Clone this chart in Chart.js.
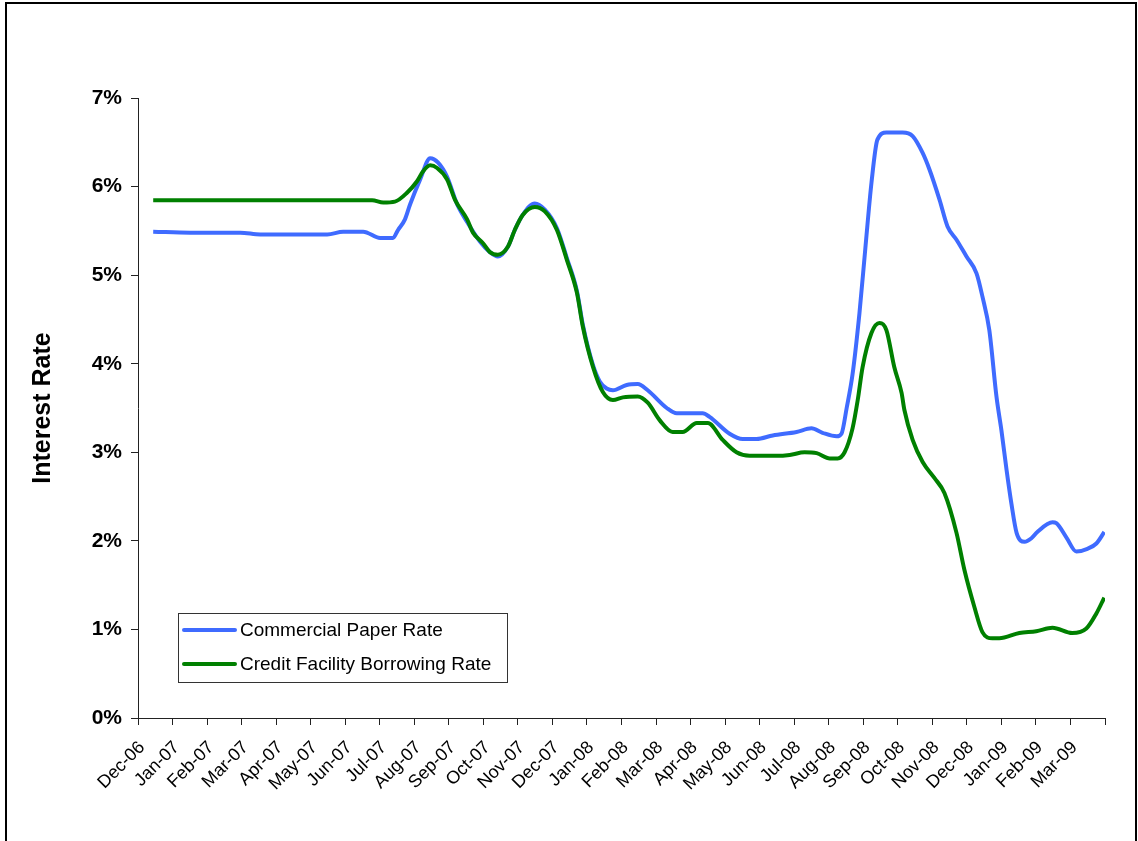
<!DOCTYPE html>
<html>
<head>
<meta charset="utf-8">
<script src="https://cdn.jsdelivr.net/npm/chart.js@4.4.1/dist/chart.umd.min.js"></script>
<style>
  html, body { margin: 0; padding: 0; background: #fff; }
</style>
</head>
<body>
<canvas id="myChart" width="1138" height="841"></canvas>
<script>
// month labels, one per tick (tick 28 is left blank)
const monthLabels = ['Dec-06', 'Jan-07', 'Feb-07', 'Mar-07', 'Apr-07', 'May-07', 'Jun-07', 'Jul-07',
      'Aug-07', 'Sep-07', 'Oct-07', 'Nov-07', 'Dec-07', 'Jan-08', 'Feb-08', 'Mar-08', 'Apr-08',
      'May-08', 'Jun-08', 'Jul-08', 'Aug-08', 'Sep-08', 'Oct-08', 'Nov-08', 'Dec-08', 'Jan-09',
      'Feb-09', 'Mar-09'];

// x = months since the Dec-06 tick
const cpMonth = [0.44, 1.51, 2.96, 3.54, 5.48, 5.94, 6.52, 7.01, 7.38, 7.53, 7.73, 7.88, 8.17, 8.46,
      8.69, 8.95, 9.24, 9.53, 9.90, 10.19, 10.42, 10.71, 10.91, 11.14, 11.49, 11.78, 12.13, 12.42,
      12.71, 12.88, 13.17, 13.37, 13.57, 13.75, 14.15, 14.47, 14.76, 15.31, 15.60, 16.35, 16.55,
      17.13, 17.51, 17.91, 18.38, 19.07, 19.50, 19.82, 20.23, 20.37, 20.52, 20.69, 20.89, 21.06,
      21.24, 21.41, 21.67, 22.14, 22.43, 22.72, 22.92, 23.21, 23.44, 23.70, 23.99,
      24.28, 24.45, 24.65, 24.86, 25.00, 25.15, 25.29, 25.44, 25.67, 25.87, 26.04, 26.48, 26.59,
      26.88, 27.17, 27.49, 27.75, 27.98];
const cpRate = [5.49, 5.48, 5.48, 5.46, 5.46, 5.49, 5.49, 5.42, 5.42, 5.51, 5.63, 5.80, 6.08, 6.32,
      6.27, 6.11, 5.80, 5.60, 5.38, 5.26, 5.21, 5.32, 5.51, 5.68, 5.81, 5.74, 5.53, 5.19,
      4.82, 4.44, 3.99, 3.80, 3.72, 3.70, 3.76, 3.77, 3.70, 3.50, 3.44, 3.44, 3.40,
      3.21, 3.15, 3.15, 3.19, 3.23, 3.27, 3.22, 3.18, 3.21, 3.50, 3.88, 4.57, 5.30,
      6.05, 6.53, 6.61, 6.61, 6.57, 6.38, 6.19, 5.85, 5.55, 5.40, 5.21,
      5.02, 4.76, 4.38, 3.62, 3.25, 2.80, 2.42, 2.09, 1.99, 2.03, 2.10, 2.21, 2.20,
      2.04, 1.88, 1.91, 1.97, 2.10];

const cfMonth = [0.44, 6.78, 7.10, 7.44, 7.79, 8.08, 8.25, 8.46, 8.66, 8.95, 9.18, 9.53, 9.70, 9.99,
      10.19, 10.42, 10.71, 10.91, 11.14, 11.49, 11.78, 12.13, 12.42, 12.71, 12.88, 13.17, 13.46,
      13.75, 14.04, 14.47, 14.76, 15.11, 15.48, 15.77, 16.18, 16.50, 16.93, 17.33, 17.71, 18.49,
      18.87, 19.30, 19.65, 20.03, 20.26, 20.46, 20.69, 20.84, 20.98, 21.24, 21.47, 21.67, 21.90,
      22.11, 22.19, 22.43, 22.72, 23.06, 23.35, 23.70, 23.93, 24.22, 24.45, 24.74, 24.94, 25.52,
      26.01, 26.48, 27.05, 27.46, 27.75, 27.98];
const cfRate = [5.845, 5.845, 5.82, 5.83, 5.93, 6.06, 6.17, 6.24, 6.21, 6.08, 5.85, 5.63, 5.48, 5.36,
      5.26, 5.23, 5.32, 5.51, 5.68, 5.77, 5.72, 5.51, 5.17, 4.80, 4.42, 3.97, 3.68,
      3.59, 3.62, 3.63, 3.56, 3.36, 3.23, 3.23, 3.33, 3.33, 3.14, 3.00, 2.96, 2.96,
      2.97, 3.00, 2.99, 2.93, 2.93, 3.00, 3.27, 3.59, 3.96, 4.35, 4.46, 4.38, 3.96,
      3.67, 3.48, 3.14, 2.89, 2.71, 2.54, 2.09, 1.67, 1.25, 0.97, 0.90, 0.90, 0.96,
      0.98, 1.02, 0.96, 1.01, 1.18, 1.36];

const yTicks = [0, 1, 2, 3, 4, 5, 6, 7];

const FONT = "'Liberation Sans', Arial, sans-serif";

const toPoints = (xs, ys) => xs.map((x, i) => ({ x: x, y: ys[i] }));

// outer frame of the picture
const framePlugin = {
      id: 'frame',
      beforeDraw(chart) {
            const c = chart.ctx;
            c.save();
            c.fillStyle = '#fff';
            c.fillRect(0, 0, chart.width, chart.height);
            c.strokeStyle = '#000';
            c.lineWidth = 2;
            c.strokeRect(6, 3, 1130, 900);
            c.restore();
      }
};

// excel style legend box inside the plot
const boxLegend = {
      id: 'boxLegend',
      afterDraw(chart) {
            const c = chart.ctx;
            const x0 = 178, y0 = 613, w = 329, h = 69;
            c.save();
            c.fillStyle = '#fff';
            c.fillRect(x0, y0, w, h);
            c.strokeStyle = '#333';
            c.lineWidth = 1;
            c.strokeRect(x0 + 0.5, y0 + 0.5, w, h);
            c.font = '19px ' + FONT;
            c.textBaseline = 'middle';
            c.lineCap = 'round';
            chart.data.datasets.forEach((ds, i) => {
                  const yy = y0 + 17 + i * 34;
                  c.strokeStyle = ds.borderColor;
                  c.lineWidth = 4;
                  c.beginPath();
                  c.moveTo(x0 + 6, yy);
                  c.lineTo(x0 + 57, yy);
                  c.stroke();
                  c.fillStyle = '#000';
                  c.fillText(ds.label, x0 + 62, yy + 1);
            });
            c.restore();
      }
};

const ctx = document.getElementById('myChart');

const chart = new Chart(ctx, {
      type: 'line',
      data: {
            datasets: [{
                  label: 'Commercial Paper Rate',
                  data: toPoints(cpMonth, cpRate),
                  borderColor: '#3f6bff',
                  borderWidth: 4,
                  pointRadius: 0,
                  cubicInterpolationMode: 'monotone',
                  order: 1
            }, {
                  label: 'Credit Facility Borrowing Rate',
                  data: toPoints(cfMonth, cfRate),
                  borderColor: '#008000',
                  borderWidth: 4,
                  pointRadius: 0,
                  cubicInterpolationMode: 'monotone',
                  order: 0
            }]
      },
      options: {
            responsive: false,
            animation: false,
            layout: {
                  padding: { left: 24, right: 33, top: 98, bottom: 0 }
            },
            scales: {
                  x: {
                        type: 'linear',
                        min: 0,
                        max: monthLabels.length,
                        afterFit: (s) => { s.height = 123; },
                        grid: { drawOnChartArea: false, tickLength: 7, color: '#222' },
                        border: { color: '#222', width: 1 },
                        ticks: {
                              stepSize: 1,
                              autoSkip: false,
                              maxTicksLimit: 40,
                              minRotation: 45,
                              maxRotation: 45,
                              padding: 12,
                              labelOffset: 4,
                              color: '#000',
                              font: { family: FONT, size: 18 },
                              callback: (v) => monthLabels[v] ?? ''
                        }
                  },
                  y: {
                        min: yTicks[0],
                        max: yTicks[yTicks.length - 1],
                        afterFit: (s) => { s.width = 114; },
                        grid: { drawOnChartArea: false, tickLength: 7, color: '#222' },
                        border: { color: '#222', width: 1 },
                        ticks: {
                              stepSize: 1,
                              padding: 9,
                              color: '#000',
                              font: { family: FONT, size: 21, weight: 'bold' },
                              callback: (v) => v + '%'
                        },
                        title: {
                              display: true,
                              text: 'Interest Rate',
                              color: '#000',
                              font: { family: FONT, size: 25, weight: 'bold' }
                        }
                  }
            },
            plugins: {
                  legend: { display: false },
                  tooltip: { enabled: false }
            }
      },
      plugins: [framePlugin, boxLegend]
});
</script>
</body>
</html>
